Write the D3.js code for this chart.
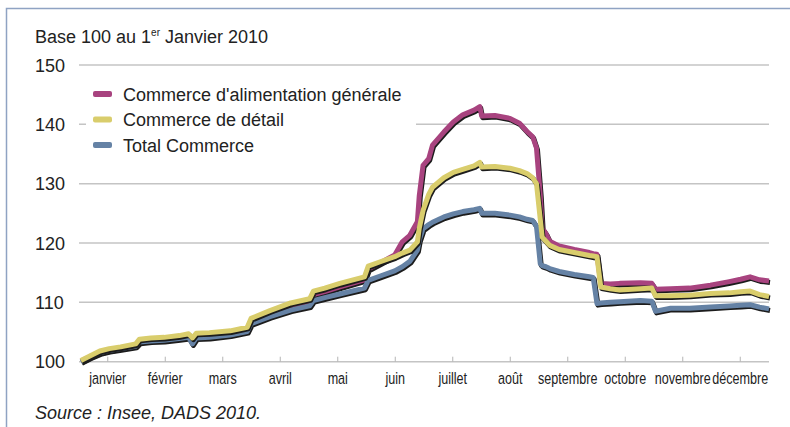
<!DOCTYPE html>
<html>
<head>
<meta charset="utf-8">
<script src="https://cdn.jsdelivr.net/npm/d3@7"></script>
<style>
  body { margin: 0; background: #fff; }
  text { font-family: "Liberation Sans", Arial, Helvetica, sans-serif; fill: #222; }
  .x-axis text { font-size: 17px; }
</style>
</head>
<body>
<svg id="chart" width="790" height="427"></svg>
<script>
// jour de l'année (0 = 1er janvier)
var days = [1, 6, 11, 16, 22, 30, 32, 38, 45, 53, 58, 60, 62, 69, 80, 89, 91, 101, 112, 122,
	124, 130, 138, 151, 153, 159, 167, 171, 175, 179, 180, 182, 185, 187, 193, 198, 203, 209,
	212, 213, 220, 228, 233, 237, 240, 242, 244, 245, 247, 249, 254, 262, 270, 272, 274, 276,
	281, 286, 297, 303, 305, 313, 323, 334, 344, 350, 355, 360, 365];

var alimentation = [100.1, 100.9, 101.6, 102.0, 102.3, 102.8, 103.6, 103.8, 103.9, 104.2, 104.5, 103.7,
	104.6, 104.7, 105.0, 105.6, 107.0, 108.2, 109.5, 110.1, 111.3, 111.8, 112.6, 113.8, 115.6, 116.6,
	118.0, 120.2, 121.3, 123.6, 128.0, 133.1, 134.2, 136.5, 138.7, 140.4, 141.6, 142.4, 143.0, 141.4,
	141.5, 141.0, 140.2, 138.8, 137.9, 136.0, 128.0, 122.5, 121.6, 120.3, 119.5, 118.9, 118.4, 118.2,
	118.1, 113.2, 113.1, 113.2, 113.3, 113.2, 112.2, 112.3, 112.4, 112.9, 113.5, 113.9, 114.3, 113.8, 113.6];

var detail = [100.2, 101.0, 101.8, 102.2, 102.5, 103.0, 103.8, 104.0, 104.1, 104.4, 104.7, 104.0,
	104.8, 104.9, 105.2, 105.8, 107.3, 108.6, 109.9, 110.6, 111.9, 112.4, 113.2, 114.3, 116.1, 116.8,
	117.7, 118.3, 118.8, 120.2, 122.5, 125.5, 128.2, 129.4, 131.0, 131.9, 132.4, 133.0, 133.6, 132.8,
	132.9, 132.6, 132.2, 131.7, 131.0, 130.0, 124.0, 121.0, 120.3, 119.6, 118.9, 118.4, 117.9, 117.8,
	117.7, 112.6, 112.3, 112.1, 112.3, 112.4, 111.1, 111.1, 111.2, 111.5, 111.6, 111.8, 111.9, 111.3, 111.0];

var total = [100.0, 100.8, 101.5, 101.9, 102.2, 102.6, 103.3, 103.5, 103.6, 103.9, 104.1, 103.0,
	104.0, 104.1, 104.5, 105.1, 106.4, 107.6, 108.7, 109.4, 110.3, 110.8, 111.4, 112.4, 113.7, 114.4,
	115.3, 116.0, 116.9, 118.8, 120.5, 122.4, 123.1, 123.5, 124.4, 124.9, 125.3, 125.6, 125.85, 125.0,
	125.0, 124.7, 124.4, 124.0, 123.8, 122.8, 116.5, 116.2, 116.0, 115.7, 115.2, 114.7, 114.3, 114.2,
	109.8, 109.9, 110.0, 110.1, 110.3, 110.2, 108.5, 109.0, 109.0, 109.2, 109.4, 109.5, 109.6, 109.2, 108.9];

var months = ["janvier", "février", "mars", "avril", "mai", "juin", "juillet", "août",
	"septembre", "octobre", "novembre", "décembre"];
var yTicks = [100, 110, 120, 130, 140, 150];

var series = [
	{name: "Commerce d'alimentation générale", values: alimentation, color: "#a8437f"},
	{name: "Total Commerce", values: total, color: "#6582a5"},
	{name: "Commerce de détail", values: detail, color: "#d9cd6c"}
];
var legendOrder = [0, 2, 1];

var svg = d3.select("#chart");

var x = d3.scaleLinear().domain([0, 365]).range([79, 769]);
var y = d3.scaleLinear().domain([100, 150]).range([361.7, 65]);
var xm = d3.scaleBand().domain(months).range([79, 769]);

// cadre
svg.append("path")
	.attr("d", "M6.5,427V8.5H790")
	.attr("fill", "none")
	.attr("stroke", "#8fa3c3")
	.attr("stroke-width", 1.5);

svg.append("text")
	.attr("x", 35).attr("y", 42.5)
	.style("font-size", "18px")
	.text("Base 100 au 1")
	.append("tspan")
		.attr("dy", -7).style("font-size", "10px").text("er")
	.select(function() { return this.parentNode; })
	.append("tspan")
		.attr("dy", 7).text(" Janvier 2010");

// grille
svg.append("g")
	.selectAll("line")
	.data(yTicks)
	.enter().append("line")
		.attr("x1", 79).attr("x2", 769)
		.attr("y1", d => y(d)).attr("y2", d => y(d))
		.attr("stroke", "#c4c4c4")
		.attr("stroke-width", 1.5);

svg.append("g")
	.selectAll("text")
	.data(yTicks)
	.enter().append("text")
		.attr("x", 35)
		.attr("y", d => y(d) + 6.5)
		.style("font-size", "18px")
		.text(d => d);

var xAxis = svg.append("g")
	.attr("class", "x-axis")
	.attr("transform", "translate(0," + y(100) + ")")
	.call(d3.axisBottom(xm).tickSize(-5).tickPadding(10));
xAxis.select(".domain").remove();
xAxis.selectAll(".tick line").attr("stroke", "#b5b5b5");
// police étroite simulée
xAxis.selectAll(".tick text")
	.attr("fill", "#222").attr("font-family", null).attr("font-size", null)
	.attr("transform", "scale(0.74,1)");

// légende (fond blanc)
var legend = svg.append("g");
legend.append("rect")
	.attr("x", 86).attr("y", 78).attr("width", 330).attr("height", 82)
	.attr("fill", "#fff");

legendOrder.forEach(function(s, i) {
	legend.append("rect")
		.attr("x", 93).attr("y", 91 + i * 25.5)
		.attr("width", 19).attr("height", 6).attr("rx", 2)
		.attr("fill", series[s].color);
	legend.append("text")
		.attr("x", 123).attr("y", 100.5 + i * 25.5)
		.style("font-size", "18px")
		.text(series[s].name);
});

// courbes avec ombre
var line = d3.line()
	.x((d, i) => x(days[i]))
	.y(d => y(d));

series.forEach(function(s) {
	svg.append("path")
		.attr("d", line(s.values))
		.attr("transform", "translate(1,1.6)")
		.attr("fill", "none")
		.attr("stroke", "#1c1c1c")
		.attr("stroke-width", 5)
		.attr("stroke-linejoin", "round");
	svg.append("path")
		.attr("d", line(s.values))
		.attr("fill", "none")
		.attr("stroke", s.color)
		.attr("stroke-width", 5)
		.attr("stroke-linejoin", "round");
});

svg.append("text")
	.attr("x", 35).attr("y", 419)
	.style("font-size", "18px")
	.style("font-style", "italic")
	.text("Source : Insee, DADS 2010.");
</script>
</body>
</html>
